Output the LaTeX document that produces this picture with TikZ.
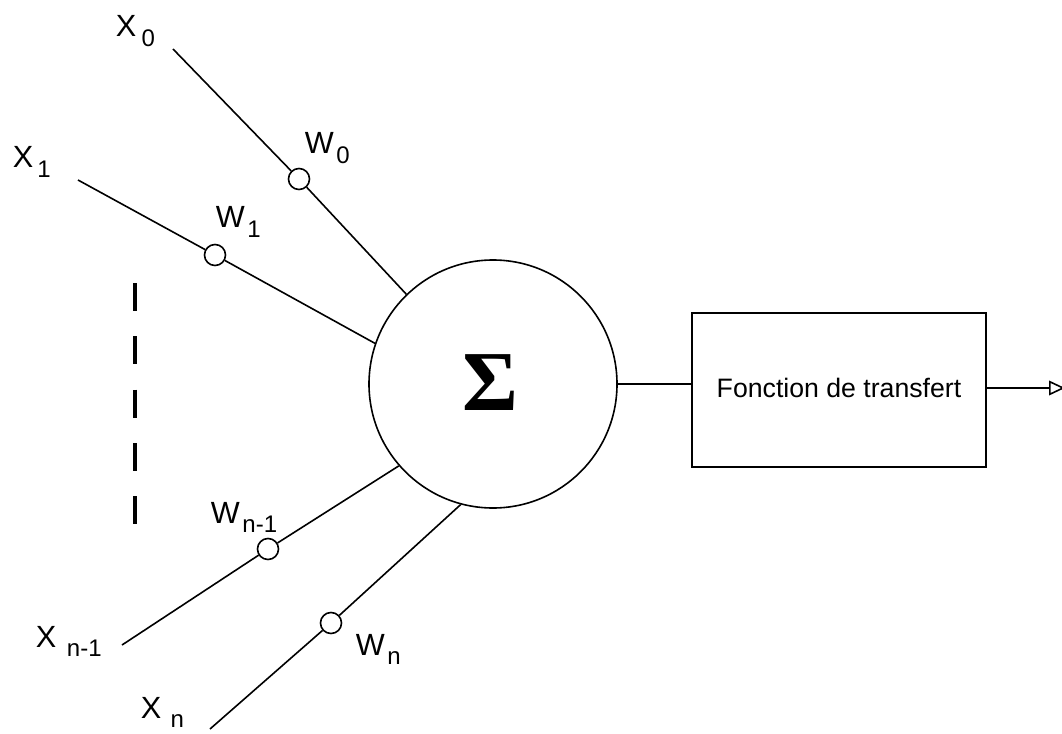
\documentclass[tikz,border=0pt]{standalone}
\usepackage{fontspec}
\setmainfont{Liberation Sans}
\newfontfamily\sigmafont{Liberation Serif}
\usetikzlibrary{arrows.meta, positioning}

% X\kern<gap> suivi de l'indice abaissé
\newcommand{\sublab}[3][3pt]{#2\kern#1\raisebox{-7pt}{\fontsize{18}{20}\selectfont #3}}

\tikzset{
  poids/.style={circle, draw, fill=white, inner sep=0pt, minimum size=15.75pt},
  lbl/.style={inner sep=0pt, anchor=base west, font=\fontsize{23}{26}\selectfont},
}

\begin{document}
\begin{tikzpicture}[x=0.75pt, y=-0.75pt, line width=1.2pt,
    >={Triangle[open, length=12pt, width=11pt]}]
    \useasboundingbox (0,0) rectangle (1062,734);

    % Sommateur et fonction de transfert
    \node[circle, draw, inner sep=0pt, minimum size=186pt,
          font=\sigmafont\bfseries\fontsize{64}{70}\selectfont] (sum) at (493,384)
          {\raisebox{2pt}{\kern-4pt Σ}};
    \node[draw, minimum width=220.5pt, minimum height=115.5pt,
          font=\fontsize{20}{24}\selectfont] (transf) at (839,390)
          {\raisebox{3.5pt}{Fonction de transfert}};
    \coordinate (sortie) at (1065,388);
    \draw (sum.east) -- (transf.west |- sum.east);
    \draw[->] (transf.east |- sortie) -- (sortie);

    % Entrées et poids
    \coordinate (x0) at (173,49);
    \coordinate (x1) at (78,180);
    \coordinate (xn1) at (122,645);
    \coordinate (xn) at (210,729);
    \node[poids] (w0) at (299,179) {};
    \node[poids] (w1) at (215,255) {};
    \node[poids] (wn1) at (268,549) {};
    \node[poids] (wn) at (331,623) {};
    \foreach \e/\w/\a in {x0/w0/134, x1/w1/161, xn1/wn1/221, xn/wn/255} {
        \draw (\e) -- (\w) -- (sum.\a);
    }

    % Étiquettes
    \node[lbl] (lx0) at (115,37) {\sublab[4pt]{X}{0}};
    \node[lbl] (lx1) at (12,168) {\sublab[3pt]{X}{1}};
    \node[lbl] (lxn1) at (35,647) {\sublab[8pt]{X}{n-1}};
    \node[lbl] (lxn) at (140,718) {\sublab[7pt]{X}{n}};
    \node[lbl] (lw0) at (304,154) {\sublab[2pt]{W}{0}};
    \node[lbl] (lw1) at (215,228) {\sublab[2pt]{W}{1}};
    \node[lbl] (lwn1) at (210,523) {\sublab[2pt]{W}{n-1}};
    \node[lbl] (lwn) at (355,655) {\sublab[2pt]{W}{n}};

    % Pointillés
    \draw[line width=3pt, dash pattern=on 21pt off 19pt] (135,283) -- (135,524);
\end{tikzpicture}
\end{document}
